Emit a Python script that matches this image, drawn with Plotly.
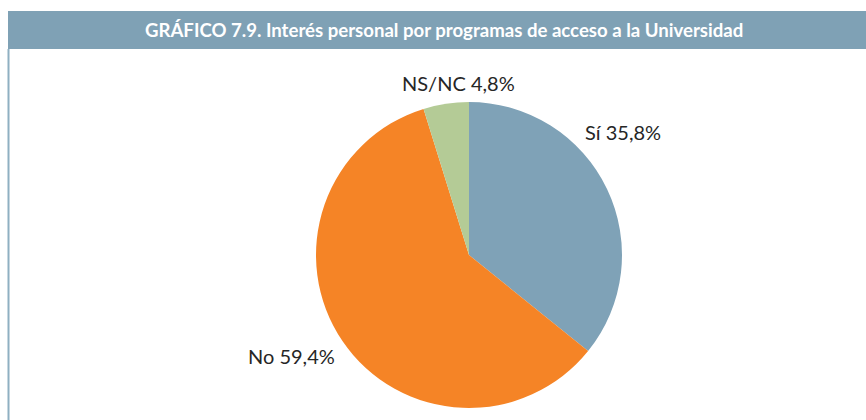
import plotly.graph_objects as go

# Survey answers and their shares (%)
categories = ["Sí", "No", "NS/NC"]
values = [35.8, 59.4, 4.8]
colors = ["#7fa2b7", "#f58426", "#b4cb96"]

title_text = "GRÁFICO 7.9. Interés personal por programas de acceso a la Universidad"

W, H = 866, 420

fig = go.Figure(
    go.Pie(
        labels=categories,
        values=values,
        sort=False,
        direction="clockwise",
        rotation=0,
        marker=dict(colors=colors, line=dict(width=0)),
        textinfo="none",
        hoverinfo="label+percent",
        showlegend=False,
        domain=dict(x=[316 / W, 622 / W], y=[1 - 408 / H, 1 - 102 / H]),
    )
)

# Outside labels, placed around the pie
label_pos = {"Sí": (623, 132), "No": (291, 356), "NS/NC": (458, 83)}
for cat, val in zip(categories, values):
    x, y = label_pos[cat]
    fig.add_annotation(
        x=x / W, y=1 - y / H, xref="paper", yref="paper",
        text=f"{cat} {val:.1f}%".replace(".", ","),
        showarrow=False, xanchor="center", yanchor="middle",
        font=dict(family="Lato", size=20, color="#262626"),
    )

# Header band and left rule of the panel
fig.add_shape(type="rect", xref="paper", yref="paper",
              x0=8 / W, x1=1, y0=1 - 49 / H, y1=1 - 11 / H,
              fillcolor="#7fa1b5", line=dict(width=0), layer="below")
fig.add_shape(type="line", xref="paper", yref="paper",
              x0=8.5 / W, x1=8.5 / W, y0=0, y1=1 - 49 / H,
              line=dict(color="#8fb0c2", width=2))
fig.add_annotation(
    x=444 / W, y=1 - 30 / H, xref="paper", yref="paper",
    text=f"<b>{title_text}</b>", showarrow=False,
    xanchor="center", yanchor="middle",
    font=dict(family="Lato", size=18.6, color="white"),
)

fig.update_layout(
    width=W, height=H,
    margin=dict(l=0, r=0, t=0, b=0),
    paper_bgcolor="white", plot_bgcolor="white",
)

fig.write_html("out.html")
